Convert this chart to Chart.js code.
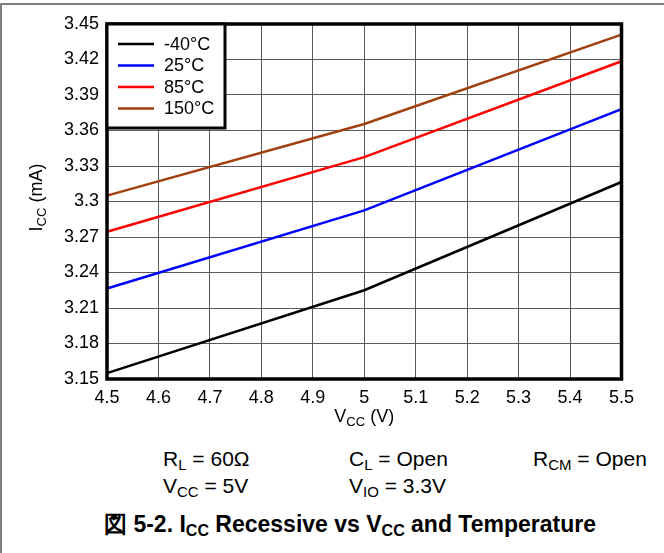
<!DOCTYPE html>
<html>
<head>
<meta charset="utf-8">
<script src="https://cdn.jsdelivr.net/npm/chart.js@4"></script>
<style>
  body { margin:0; background:#fff; font-family:"Liberation Sans", Arial, sans-serif; }
  #wrap { position:relative; width:664px; height:553px; overflow:hidden; }
  #topline { position:absolute; left:0; top:3px; width:664px; height:2px; background:#808080; }
  #leftline { position:absolute; left:0; top:3px; width:2px; height:550px; background:#808080; }
  #chartBox { position:absolute; left:0; top:0; width:664px; height:440px; }
  .t { position:absolute; font-size:21px; color:#000; white-space:nowrap; line-height:1; }
  .t sub { font-size:15px; vertical-align:-4px; line-height:0; }
  #cap { position:absolute; left:0; width:700px; top:513px; text-align:center; font-weight:bold; font-size:23px; white-space:nowrap; line-height:1; }
  #cap sub { font-size:16px; vertical-align:-4px; line-height:0; }
</style>
</head>
<body>
<div id="wrap">
  <div id="topline"></div>
  <div id="leftline"></div>
  <div id="chartBox"><canvas id="c" width="664" height="440"></canvas></div>
  <div class="t" style="left:163px;top:448px">R<sub>L</sub> = 60Ω</div>
  <div class="t" style="left:349px;top:448px">C<sub>L</sub> = Open</div>
  <div class="t" style="left:533px;top:448px">R<sub>CM</sub> = Open</div>
  <div class="t" style="left:163px;top:475px">V<sub>CC</sub> = 5V</div>
  <div class="t" style="left:349px;top:475px">V<sub>IO</sub> = 3.3V</div>
  <div id="cap">図 5-2. I<sub>CC</sub> Recessive vs V<sub>CC</sub> and Temperature</div>
</div>
<script>
const vcc = [4.5, 5.0, 5.5];
const iccM40 = [3.155, 3.225, 3.3165];
const icc25 = [3.2265, 3.2925, 3.378];
const icc85 = [3.2745, 3.3375, 3.4185];
const icc150 = [3.305, 3.3655, 3.441];

const seriesLabels = ["-40°C", "25°C", "85°C", "150°C"];
const seriesColors = ["#000000", "#0000ff", "#ff0000", "#a0400e"];
const xTicks = [4.5, 4.6, 4.7, 4.8, 4.9, 5.0, 5.1, 5.2, 5.3, 5.4, 5.5];
const xTickLabels = ["4.5","4.6","4.7","4.8","4.9","5","5.1","5.2","5.3","5.4","5.5"];
const yTicks = [3.15, 3.18, 3.21, 3.24, 3.27, 3.30, 3.33, 3.36, 3.39, 3.42, 3.45];
const yTickLabels = ["3.15","3.18","3.21","3.24","3.27","3.3","3.33","3.36","3.39","3.42","3.45"];

const FONT = '"Liberation Sans", Arial, sans-serif';
const allSeries = [iccM40, icc25, icc85, icc150];

// text with subscripts, parts = [[text, isSub], ...]
function drawSub(ctx, parts, x, y, size, rotate){
  ctx.save();
  ctx.translate(x, y);
  if(rotate) ctx.rotate(-Math.PI/2);
  const subSize = Math.round(size*0.72);
  let w = 0;
  parts.forEach(p => {
    ctx.font = (p[1] ? subSize : size) + "px " + FONT;
    w += ctx.measureText(p[0]).width;
  });
  let cx = -w/2;
  ctx.fillStyle = "#000";
  ctx.textBaseline = "middle";
  ctx.textAlign = "left";
  parts.forEach(p => {
    ctx.font = (p[1] ? subSize : size) + "px " + FONT;
    ctx.fillText(p[0], cx, p[1] ? 5 : 0);
    cx += ctx.measureText(p[0]).width;
  });
  ctx.restore();
}

const framePlugin = {
  id: "frame",
  afterDatasetsDraw(chart){
    const ctx = chart.ctx, a = chart.chartArea;
    ctx.save();
    ctx.strokeStyle = "#000";
    ctx.lineWidth = 3.5;
    ctx.strokeRect(a.left, a.top, a.right - a.left, a.bottom - a.top);

    // legend box
    const bx = a.left, by = a.top, bw = 118, bh = 104;
    ctx.fillStyle = "#fff";
    ctx.fillRect(bx, by, bw, bh);
    ctx.lineWidth = 3;
    ctx.strokeRect(bx, by, bw, bh);
    chart.data.datasets.forEach((ds, i) => {
      const yy = by + 20 + i*21.5;
      ctx.strokeStyle = ds.borderColor;
      ctx.lineWidth = 2.5;
      ctx.beginPath();
      ctx.moveTo(bx + 11, yy);
      ctx.lineTo(bx + 47, yy);
      ctx.stroke();
      ctx.fillStyle = "#000";
      ctx.font = "18px " + FONT;
      ctx.textBaseline = "middle";
      ctx.fillText(ds.label, bx + 57, yy + 1);
    });

    // axis titles
    drawSub(ctx, [["I", false], ["CC", true], [" (mA)", false]], 37, (a.top + a.bottom)/2 - 4, 18, true);
    drawSub(ctx, [["V", false], ["CC", true], [" (V)", false]], (a.left + a.right)/2, 417, 18, false);
    ctx.restore();
  }
};

new Chart(document.getElementById("c"), {
  type: "line",
  data: {
    datasets: allSeries.map((s, i) => ({
      label: seriesLabels[i],
      data: vcc.map((x, j) => ({ x, y: s[j] })),
      borderColor: seriesColors[i],
      borderWidth: 2.5,
      pointRadius: 0,
      tension: 0,
      clip: false
    }))
  },
  options: {
    responsive: false,
    animation: false,
    layout: { padding: { top: 24, right: 42.5, left: 0, bottom: 0 } },
    plugins: { legend: { display: false }, tooltip: { enabled: false } },
    scales: {
      x: {
        type: "linear", min: 4.5, max: 5.5,
        afterBuildTicks: ax => { ax.ticks = xTicks.map(v => ({ value: v })); },
        afterFit: ax => { ax.height = 61; },
        grid: { color: "#5a5a5a", lineWidth: 1, drawTicks: false },
        border: { display: false },
        ticks: { color: "#000", font: { size: 18, family: FONT }, padding: 8, maxRotation: 0,
          callback: (v, i) => xTickLabels[i] }
      },
      y: {
        min: 3.15, max: 3.45,
        afterBuildTicks: ax => { ax.ticks = yTicks.map(v => ({ value: v })); },
        afterFit: ax => { ax.width = 107; },
        grid: { color: "#5a5a5a", lineWidth: 1, drawTicks: false },
        border: { display: false },
        ticks: { color: "#000", font: { size: 18, family: FONT }, padding: 8,
          callback: (v, i) => yTickLabels[i] }
      }
    }
  },
  plugins: [framePlugin]
});
</script>
</body>
</html>
